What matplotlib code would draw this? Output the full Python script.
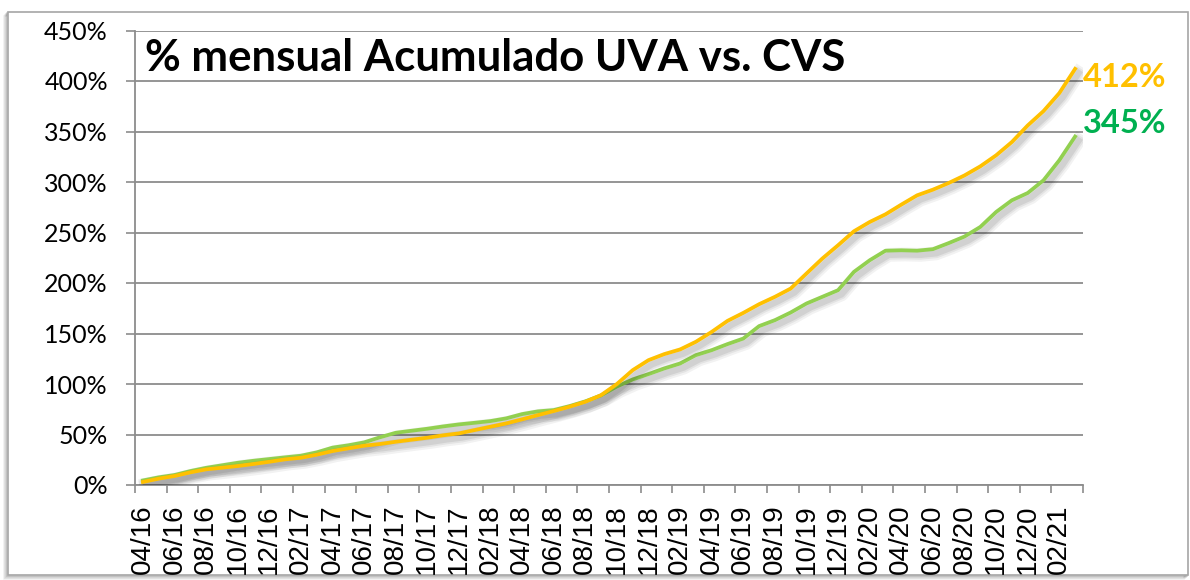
import matplotlib
matplotlib.use("Agg")
import matplotlib.pyplot as plt
import matplotlib.patheffects as pe
from matplotlib.patches import Rectangle
from matplotlib.ticker import FixedLocator, FuncFormatter, NullFormatter

# meses desde abril 2016 hasta marzo 2021
meses = ["04/16", "05/16", "06/16", "07/16", "08/16", "09/16", "10/16", "11/16", "12/16",
         "01/17", "02/17", "03/17", "04/17", "05/17", "06/17", "07/17", "08/17", "09/17",
         "10/17", "11/17", "12/17", "01/18", "02/18", "03/18", "04/18", "05/18", "06/18",
         "07/18", "08/18", "09/18", "10/18", "11/18", "12/18", "01/19", "02/19", "03/19",
         "04/19", "05/19", "06/19", "07/19", "08/19", "09/19", "10/19", "11/19", "12/19",
         "01/20", "02/20", "03/20", "04/20", "05/20", "06/20", "07/20", "08/20", "09/20",
         "10/20", "11/20", "12/20", "01/21", "02/21", "03/21"]

# variacion acumulada (%)
uva = [3.0, 6.3, 8.9, 12.5, 15.5, 17.1, 18.8, 20.8, 23.0, 25.4,
       27.0, 30.0, 33.6, 36.3, 38.9, 40.6, 42.8, 44.8, 46.8, 49.2,
       51.1, 54.4, 57.7, 61.0, 65.0, 69.2, 73.2, 77.5, 82.4, 89.0,
       100.0, 113.7, 123.6, 129.6, 134.2, 141.8, 151.6, 162.5, 170.4, 179.0,
       186.3, 194.5, 209.4, 224.2, 237.4, 251.2, 260.4, 268.0, 277.6, 286.8,
       292.4, 299.0, 306.5, 315.5, 326.4, 339.6, 356.0, 370.2, 388.0, 412.0]

cvs = [4.5, 7.6, 9.9, 13.8, 17.0, 19.5, 22.0, 24.0, 25.7, 27.4,
       29.0, 32.3, 37.0, 39.3, 42.2, 47.2, 51.7, 53.7, 55.7, 58.0,
       60.0, 61.6, 63.3, 66.0, 70.2, 72.9, 74.2, 78.1, 82.8, 88.7,
       97.5, 104.5, 109.8, 115.4, 120.3, 128.6, 133.5, 139.5, 145.0, 157.3,
       163.2, 170.8, 179.7, 186.3, 192.9, 211.0, 222.5, 232.0, 232.4, 232.0,
       233.5, 239.5, 246.0, 255.5, 270.3, 281.9, 289.1, 301.7, 321.5, 345.0]

col_uva = "#FFC000"
col_cvs = "#92D050"
col_cvs_txt = "#00B050"
col_grid = "#8C8C8C"

fig = plt.figure(figsize=(11.9, 5.8), dpi=100)
W, H = 1190, 580

# marco del grafico con sombra
for off, a in [(4, 0.06), (3, 0.08), (2, 0.12), (1, 0.18)]:
    fig.patches.append(Rectangle(((8 - off) / W, (5 - off) / H), 1180 / W, 563 / H,
                                 transform=fig.transFigure, fill=False, zorder=-10,
                                 edgecolor="black", alpha=a, lw=1.2))
fig.patches.append(Rectangle((8 / W, 5 / H), 1180 / W, 563 / H, transform=fig.transFigure,
                             facecolor="white", edgecolor="#A6A6A6", lw=1.2, zorder=-9))

ax = fig.add_axes([135 / W, 1 - 485 / H, (1083 - 135) / W, (485 - 30.5) / H])
ax.set_facecolor("none")

x = list(range(len(meses)))

def sombra():
    return [pe.SimpleLineShadow(offset=(2.5, -3), shadow_color="black", alpha=0.05, linewidth=10),
            pe.SimpleLineShadow(offset=(2.5, -3), shadow_color="black", alpha=0.06, linewidth=7),
            pe.SimpleLineShadow(offset=(2.5, -3), shadow_color="black", alpha=0.08, linewidth=4.5),
            pe.Normal()]

ax.plot(x, cvs, color=col_cvs, lw=2.7, solid_joinstyle="round", path_effects=sombra(), zorder=3)
ax.plot(x, uva, color=col_uva, lw=2.7, solid_joinstyle="round", path_effects=sombra(), zorder=4)

ax.set_xlim(-0.5, len(meses) - 0.5)
ax.set_ylim(0, 450)

# eje y
ax.set_yticks(range(0, 451, 50))
ax.yaxis.set_major_formatter(FuncFormatter(lambda v, p: f"{int(v)}%"))
ax.tick_params(axis="y", length=6.5, width=1.2, color=col_grid, pad=13)
for lab in ax.get_yticklabels():
    lab.set_fontfamily("Lato")
    lab.set_fontsize(18)
ax.yaxis.grid(True, color=col_grid, lw=1.3)
ax.set_axisbelow(True)

# eje x: marcas entre categorias, etiquetas cada dos meses
ax.xaxis.set_major_locator(FixedLocator([i - 0.5 for i in range(0, len(meses) + 1, 2)]))
ax.xaxis.set_major_formatter(NullFormatter())
ax.xaxis.set_minor_locator(FixedLocator(x[::2]))
ax.set_xticklabels(meses[::2], minor=True, rotation=90, fontfamily="Liberation Sans", fontsize=20)
ax.tick_params(axis="x", which="major", length=6, width=1.2, color=col_grid)
ax.tick_params(axis="x", which="minor", length=0, pad=14)

for s in ["top", "right"]:
    ax.spines[s].set_visible(False)
for s in ["left", "bottom"]:
    ax.spines[s].set_color(col_grid)
    ax.spines[s].set_linewidth(1.3)

fig.text(145 / W, 1 - 71 / H, "% mensual Acumulado UVA vs. CVS", fontfamily="Lato",
         fontweight="bold", fontsize=31.5, color="black", va="baseline", ha="left")

ax.annotate(f"{uva[-1]:.0f}%", xy=(x[-1], uva[-1]), xytext=(8, -18), textcoords="offset pixels",
            fontfamily="Lato", fontweight="bold", fontsize=23.5, color=col_uva,
            va="baseline", ha="left", annotation_clip=False)
ax.annotate(f"{cvs[-1]:.0f}%", xy=(x[-1], cvs[-1]), xytext=(8, 4), textcoords="offset pixels",
            fontfamily="Lato", fontweight="bold", fontsize=23.5, color=col_cvs_txt,
            va="baseline", ha="left", annotation_clip=False)

fig.savefig("out.png", dpi=100, facecolor="white")
